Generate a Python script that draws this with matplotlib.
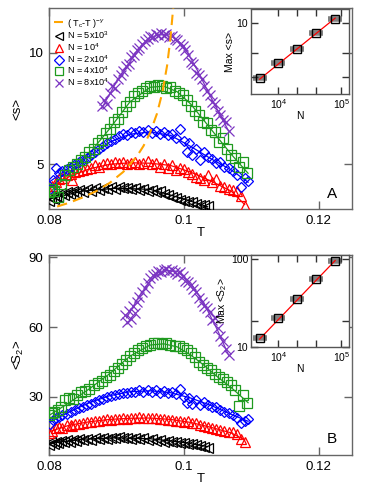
import matplotlib
matplotlib.use("Agg")
import matplotlib.pyplot as plt
from matplotlib.ticker import FixedLocator, NullLocator, FixedFormatter, NullFormatter

plt.rcParams['font.family'] = ['Liberation Sans', 'DejaVu Sans']
plt.rcParams['mathtext.fontset'] = 'custom'
plt.rcParams['mathtext.rm'] = 'Liberation Sans'
plt.rcParams['mathtext.it'] = 'Liberation Sans:italic'

# ---------------- data: top panel <s> ----------------
T_black = [0.0800,0.0803,0.0807,0.0810,0.0814,0.0818,0.0822,0.0826,0.0831,0.0835,
           0.0840,0.0845,0.0850,0.0856,0.0862,0.0868,0.0874,0.0880,0.0886,0.0892,
           0.0898,0.0904,0.0910,0.0916,0.0922,0.0928,0.0934,0.0940,0.0946,0.0952,
           0.0958,0.0964,0.0970,0.0976,0.0982,0.0988,0.0994,0.1000,0.1006,0.1012,
           0.1018,0.1024,0.1030,0.1035]
s_black = [3.35,3.50,3.45,3.60,3.55,3.70,3.62,3.75,3.68,3.80,
           3.72,3.85,3.78,3.88,3.82,3.92,3.85,3.95,3.88,3.97,
           3.90,4.00,3.92,3.96,3.88,3.94,3.85,3.90,3.80,3.86,
           3.75,3.80,3.68,3.62,3.55,3.48,3.42,3.38,3.32,3.30,
           3.24,3.20,3.16,3.12]
T_red = [0.0800,0.0805,0.0810,0.0815,0.0820,0.0826,0.0832,0.0834,0.0838,0.0844,
         0.0850,0.0856,0.0862,0.0868,0.0874,0.0880,0.0886,0.0892,0.0898,0.0904,
         0.0910,0.0916,0.0922,0.0928,0.0934,0.0940,0.0946,0.0952,0.0958,0.0964,
         0.0970,0.0976,0.0982,0.0988,0.0994,0.1000,0.1006,0.1012,0.1018,0.1024,
         0.1030,0.1036,0.1042,0.1048,0.1054,0.1060,0.1066,0.1072,0.1078,0.1084,
         0.1090]
s_red = [3.80,4.05,4.20,4.35,4.40,4.50,4.55,4.30,4.65,4.70,
         4.75,4.80,4.85,4.95,4.90,5.00,5.05,5.00,5.10,5.05,
         5.10,5.00,5.05,5.10,5.00,5.05,5.15,5.00,5.05,4.90,
         5.00,4.85,4.95,4.75,4.85,4.80,4.65,4.55,4.45,4.40,
         4.30,4.50,4.20,4.35,4.05,4.00,3.90,3.85,3.80,3.60,
         3.15]
T_blue = [0.0802,0.0806,0.0810,0.0815,0.0820,0.0826,0.0832,0.0838,0.0844,0.0850,
          0.0856,0.0862,0.0868,0.0874,0.0880,0.0886,0.0892,0.0898,0.0904,0.0910,
          0.0916,0.0922,0.0928,0.0934,0.0940,0.0946,0.0952,0.0958,0.0964,0.0970,
          0.0976,0.0982,0.0988,0.0994,0.1000,0.1004,0.1008,0.1012,0.1018,0.1024,
          0.1030,0.1036,0.1042,0.1048,0.1054,0.1060,0.1066,0.1072,0.1078,0.1084,
          0.1090,0.1095]
s_blue = [3.90,4.30,4.85,4.60,4.70,4.80,4.90,5.00,5.10,5.20,
          5.30,5.40,5.55,5.70,5.80,5.95,6.05,6.15,6.25,6.35,
          6.30,6.45,6.40,6.50,6.45,6.55,6.40,6.50,6.35,6.45,
          6.30,6.35,6.20,6.60,6.05,5.55,5.95,5.40,5.70,5.20,
          5.55,5.35,5.25,5.05,5.10,4.90,4.85,4.70,4.50,4.00,
          4.40,4.25]
T_green = [0.0800,0.0804,0.0808,0.0813,0.0818,0.0824,0.0830,0.0836,0.0842,0.0848,
           0.0854,0.0860,0.0866,0.0872,0.0878,0.0884,0.0890,0.0896,0.0902,0.0908,
           0.0914,0.0920,0.0926,0.0932,0.0938,0.0944,0.0950,0.0956,0.0962,0.0968,
           0.0974,0.0980,0.0986,0.0992,0.0998,0.1004,0.1010,0.1016,0.1022,0.1028,
           0.1034,0.1040,0.1046,0.1052,0.1058,0.1064,0.1070,0.1076,0.1082,0.1088,
           0.1094]
s_green = [3.75,3.90,3.80,3.55,4.10,4.50,4.75,4.90,5.00,5.20,
           5.35,5.55,5.70,5.95,6.10,6.40,6.60,6.90,7.05,7.35,
           7.60,7.80,8.05,8.20,8.30,8.40,8.50,8.45,8.55,8.50,
           8.40,8.45,8.30,8.20,8.10,7.90,7.60,7.40,7.20,6.90,
           6.85,6.55,6.45,6.00,6.20,5.70,5.40,5.30,4.90,5.10,
           4.60]
T_purple = [0.0878,0.0882,0.0886,0.0890,0.0894,0.0898,0.0902,0.0906,0.0910,0.0914,
            0.0918,0.0922,0.0926,0.0930,0.0934,0.0938,0.0942,0.0946,0.0950,0.0954,
            0.0958,0.0962,0.0966,0.0970,0.0974,0.0978,0.0982,0.0986,0.0990,0.0994,
            0.0998,0.1002,0.1006,0.1010,0.1014,0.1018,0.1022,0.1026,0.1030,0.1034,
            0.1038,0.1042,0.1046,0.1050,0.1054,0.1058,0.1062,0.1066]
s_purple = [7.6,7.9,7.7,8.2,8.5,8.4,8.8,9.0,9.2,9.4,
            9.5,9.8,9.9,10.1,10.2,10.4,10.5,10.6,10.75,10.7,
            10.85,10.8,10.9,10.8,10.85,10.7,10.75,10.6,10.55,10.4,
            10.3,10.1,9.9,9.6,9.5,9.1,9.0,8.8,8.5,8.3,
            8.1,7.8,7.7,7.4,7.2,7.0,6.9,6.5]

# power-law curve (T_c - T)^-gamma
T_pow = [0.0812,0.0830,0.0850,0.0870,0.0890,0.0910,0.0930,0.0940,0.0950,0.0960,
         0.0968,0.0975,0.0980,0.0984,0.0987]
s_pow = [3.11,3.28,3.52,3.80,4.17,4.66,5.35,5.82,6.43,7.27,
         8.22,9.42,10.65,12.0,13.5]

# fit lines (top)
Tf_black = [0.080,0.085,0.090,0.095,0.100,0.1035]
sf_black = [3.45,3.80,3.93,3.88,3.45,3.10]
Tf_red = [0.080,0.083,0.086,0.089,0.092,0.095,0.098,0.101,0.104,0.107,0.109]
sf_red = [3.90,4.45,4.80,5.00,5.07,5.05,4.95,4.65,4.25,3.80,3.20]
Tf_blue = [0.080,0.083,0.086,0.089,0.092,0.095,0.098,0.101,0.104,0.107,0.1095]
sf_blue = [4.20,4.85,5.35,6.00,6.35,6.45,6.30,5.80,5.25,4.75,4.20]
Tf_green = [0.080,0.083,0.086,0.089,0.092,0.095,0.097,0.099,0.101,0.103,0.105,0.107,0.1095]
sf_green = [3.70,4.60,5.50,6.60,7.80,8.45,8.50,8.25,7.70,6.95,6.20,5.45,4.60]
Tf_purple = [0.0878,0.090,0.092,0.094,0.096,0.098,0.100,0.102,0.104,0.1066]
sf_purple = [7.50,8.70,9.60,10.35,10.80,10.80,10.30,9.20,8.00,6.50]

# ---------------- data: bottom panel <S2> ----------------
S2_black = [9.5,10.5,9.8,10.8,10.2,11.0,10.5,11.3,10.8,11.5,
            11.0,11.7,11.3,12.0,11.5,12.2,11.8,12.3,12.0,12.5,
            12.1,12.6,12.2,12.4,12.0,12.3,11.8,12.1,11.5,11.8,
            11.2,11.4,10.8,11.0,10.4,10.6,10.0,10.2,9.6,9.8,
            9.2,9.0,8.6,8.2]
S2_red = [14.5,15.5,16.5,17.0,16.5,17.8,18.0,17.5,18.3,18.5,
          18.8,19.0,19.2,19.5,19.8,20.0,20.3,20.2,20.6,20.5,
          20.8,20.6,21.0,20.8,21.2,20.9,21.0,20.7,20.9,20.3,
          20.5,20.0,20.2,19.5,19.8,19.2,19.5,18.6,18.8,18.0,
          17.6,17.2,16.5,16.0,15.8,15.4,15.0,14.8,14.2,12.0,
          10.5]
S2_blue = [18.5,20.0,21.0,21.5,22.0,22.8,23.5,24.2,25.0,25.5,
           26.3,27.0,27.8,28.5,29.0,29.8,30.3,30.8,31.2,31.8,
           31.5,32.3,32.0,32.8,32.2,33.0,32.3,32.8,31.8,32.5,
           31.5,32.0,31.2,33.2,30.0,27.5,29.5,27.0,28.5,26.5,
           28.0,26.5,25.5,25.8,24.5,23.5,23.0,22.0,21.0,18.8,
           19.5,20.5]
S2_green = [22.0,23.0,23.5,24.5,25.5,28.5,29.5,29.0,31.0,32.0,
            32.5,33.5,35.0,36.0,37.0,38.5,39.5,41.0,42.5,44.0,
            46.0,47.5,49.0,50.0,51.0,52.0,52.5,53.0,53.2,52.8,
            53.0,52.5,52.0,51.8,51.0,50.0,49.0,47.0,45.0,43.5,
            42.5,41.5,40.0,38.5,37.5,36.5,35.0,33.0,26.0,31.0,
            27.5]
T_purple2 = [0.0912,0.0915,0.0918,0.0921,0.0924,0.0927,0.0930,0.0934,0.0938,0.0942,
             0.0946,0.0950,0.0954,0.0958,0.0962,0.0966,0.0970,0.0974,0.0978,0.0982,
             0.0986,0.0990,0.0994,0.0998,0.1002,0.1006,0.1010,0.1014,0.1018,0.1022,
             0.1026,0.1030,0.1034,0.1038,0.1042,0.1046,0.1050,0.1054,0.1058,0.1062,
             0.1066]
S2_purple = [65.0,62.0,67.0,63.5,69.0,66.0,71.0,73.0,75.0,77.0,
             79.0,81.0,82.5,83.0,84.0,83.5,84.5,85.0,84.0,84.5,
             83.5,83.0,83.5,82.0,80.0,79.5,78.0,76.5,75.0,72.5,
             71.0,69.0,68.0,66.5,63.0,64.0,59.5,56.0,54.0,50.5,
             48.0]

# fit lines (bottom)
S2f_black = [10.0,11.8,12.4,12.0,10.4,8.6]
S2f_red = [15.0,17.8,19.3,20.3,20.8,20.9,20.3,19.0,16.9,14.5,11.5]
S2f_blue = [19.0,23.5,27.5,30.5,32.2,32.6,31.8,29.5,26.3,22.5,19.5]
S2f_green = [22.0,27.5,33.5,40.0,47.5,52.3,52.8,51.5,48.0,43.5,38.5,34.0,27.5]
Tf_purple2 = [0.0915,0.093,0.095,0.097,0.099,0.101,0.103,0.105,0.1066]
S2f_purple = [64.0,71.5,80.0,84.3,84.0,79.0,70.0,58.5,48.0]

# ---------------- insets ----------------
inset_N = [5e3, 1e4, 2e4, 4e4, 8e4]
inset_max_s = [3.9, 5.1, 6.45, 8.45, 10.7]
inset_max_S2 = [12.7, 21.3, 35.0, 59.0, 94.0]
fit_N = [5e3, 8e4]
fit_max_s = [3.85, 10.8]
fit_max_S2 = [12.3, 96.0]

legend_labels = [r'( T$_{\rm c}$-T )$^{-\gamma}$', r'N = 5x10$^3$', r'N = 10$^4$',
                 r'N = 2x10$^4$', r'N = 4x10$^4$', r'N = 8x10$^4$']

# ---------------- styles ----------------
C_BLACK = 'black'
C_RED = '#ff0000'
C_BLUE = '#0000ff'
C_GREEN = '#1f9a1f'
C_PURPLE = '#7b35c2'
C_ORANGE = '#ffa500'
SPINE = '#666666'

W, H = 374, 490
fig = plt.figure(figsize=(W/100, H/100), dpi=100)

def fbox(l, t, r, b):
    return [l/W, 1-b/H, (r-l)/W, (b-t)/H]

axA = fig.add_axes(fbox(49, 8, 352, 209))
axB = fig.add_axes(fbox(49, 255, 352, 455))
inA = fig.add_axes(fbox(251, 9, 349, 94))
inB = fig.add_axes(fbox(251, 255, 349, 347))

ms = 7.0
series_top = [
    (T_black, s_black, '<', C_BLACK, Tf_black, sf_black),
    (T_red, s_red, '^', C_RED, Tf_red, sf_red),
    (T_blue, s_blue, 'D', C_BLUE, Tf_blue, sf_blue),
    (T_green, s_green, 's', C_GREEN, Tf_green, sf_green),
    (T_purple, s_purple, 'x', C_PURPLE, Tf_purple, sf_purple),
]
series_bot = [
    (T_black, S2_black, '<', C_BLACK, Tf_black, S2f_black),
    (T_red, S2_red, '^', C_RED, Tf_red, S2f_red),
    (T_blue, S2_blue, 'D', C_BLUE, Tf_blue, S2f_blue),
    (T_green, S2_green, 's', C_GREEN, Tf_green, S2f_green),
    (T_purple2, S2_purple, 'x', C_PURPLE, Tf_purple2, S2f_purple),
]

def draw_series(ax, series):
    handles = []
    for T, v, mk, c, Tf, vf in series:
        ax.plot(Tf, vf, '-', color=c, lw=0.9, zorder=2)
        size = ms * (0.8 if mk == 'D' else 1.0)
        h, = ax.plot(T, v, ls='none', marker=mk, ms=size, mfc='none', mec=c,
                     mew=0.9, zorder=3)
        handles.append(h)
    return handles

hp, = axA.plot(T_pow, s_pow, '--', color=C_ORANGE, lw=1.5, dashes=(5, 3), zorder=4)
hs = draw_series(axA, series_top)
draw_series(axB, series_bot)

for ax in (axA, axB):
    ax.set_xlim(0.08, 0.1249)
    ax.set_xticks([0.08, 0.1, 0.12])
    ax.set_xticklabels(['0.08', '0.1', '0.12'])
    ax.tick_params(direction='in', length=6, width=1.0, color=SPINE, top=True,
                   right=True, labelsize=9.5, pad=4)
    for sp in ax.spines.values():
        sp.set_color(SPINE)
        sp.set_linewidth(1.0)
    ax.set_xlabel('T', fontsize=9.5, labelpad=0)

axA.set_ylim(3.0, 12.0)
axA.set_yticks([5, 10])
axA.set_ylabel('<s>', fontsize=9.5, labelpad=4)
axB.set_ylim(5, 91)
axB.set_yticks([30, 60, 90])
axB.set_ylabel('<S$_2$>', fontsize=9.5, labelpad=2)

axA.text(0.935, 0.04, 'A', transform=axA.transAxes, fontsize=11, ha='center', va='bottom')
axB.text(0.935, 0.045, 'B', transform=axB.transAxes, fontsize=11, ha='center', va='bottom')

leg = axA.legend([hp] + hs, legend_labels, loc='upper left', bbox_to_anchor=(0.005, 0.975),
                 frameon=False, fontsize=6.6, handlelength=1.0, handletextpad=0.4,
                 labelspacing=0.0, borderaxespad=0.2, borderpad=0.2, markerscale=0.9)

def draw_inset(ax, vals, fitv, ylim, yticks, ylabels, ylabel):
    ax.set_xscale('log')
    ax.set_yscale('log')
    ax.plot(fit_N, fitv, '-', color=C_RED, lw=0.9, zorder=2)
    ax.plot(inset_N, vals, ls='none', marker='_', ms=10, mew=4.0, color='#808080', zorder=1)
    ax.plot(inset_N, vals, ls='none', marker='s', ms=6, mfc='none', mec='black',
            mew=1.0, zorder=3)
    ax.set_xlim(3650, 1.33e5)
    ax.set_ylim(*ylim)
    ax.xaxis.set_major_locator(FixedLocator([1e4, 1e5]))
    ax.xaxis.set_major_formatter(FixedFormatter([r'10$^4$', r'10$^5$']))
    ax.xaxis.set_minor_locator(FixedLocator([2e4, 4e4]))
    ax.xaxis.set_minor_formatter(NullFormatter())
    ax.yaxis.set_major_locator(FixedLocator(yticks))
    ax.yaxis.set_major_formatter(FixedFormatter(ylabels))
    ax.yaxis.set_minor_locator(NullLocator())
    ax.tick_params(which='both', direction='in', length=5, width=1.0, top=True,
                   right=True, labelsize=7.5, pad=2, color='#333333')
    for sp in ax.spines.values():
        sp.set_color('#555555')
        sp.set_linewidth(1.0)
    ax.set_xlabel('N', fontsize=7.5, labelpad=0)
    ax.set_ylabel(ylabel, fontsize=7.5, labelpad=1)

draw_inset(inA, inset_max_s, fit_max_s, (3.0, 12.6), [4, 6, 10], ['', '', '10'], 'Max <s>')
draw_inset(inB, inset_max_S2, fit_max_S2, (10, 111), [10, 20, 100], ['10', '', '100'],
           'Max <S$_2$>')

fig.savefig('out.png', dpi=100)
